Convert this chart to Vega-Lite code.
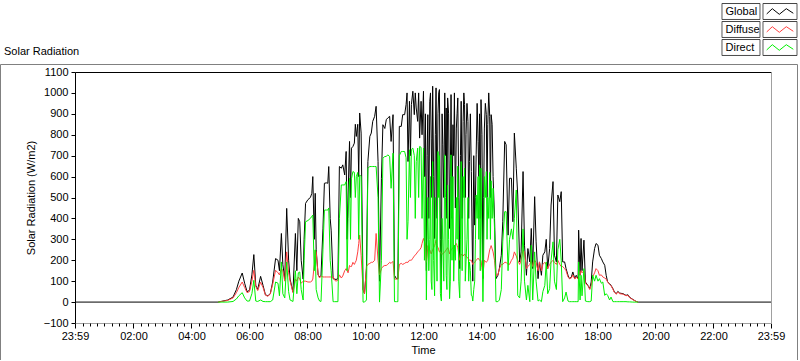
{
  "$schema": "https://vega.github.io/schema/vega-lite/v6.json",
  "width": 797,
  "height": 296,
  "padding": {"left": 0, "top": 4, "right": 0, "bottom": 0},
  "title": {"text": "Solar Radiation", "anchor": "start", "frame": "group", "font": "Liberation Sans", "fontSize": 11, "fontWeight": "normal", "color": "#000", "offset": -53, "dx": 4},
  "data": {"values": [
    {"t": -1, "Global": 0},
    {"t": 295, "Global": 0, "Diffuse": 0, "Direct": 0},
    {"t": 305, "Global": 5, "Diffuse": 4, "Direct": 0},
    {"t": 315, "Global": 10, "Diffuse": 8, "Direct": 0},
    {"t": 326, "Global": 24, "Diffuse": 20, "Direct": 3},
    {"t": 333, "Global": 60, "Diffuse": 45, "Direct": 15},
    {"t": 338, "Global": 100, "Diffuse": 70, "Direct": 30},
    {"t": 345, "Global": 139, "Diffuse": 96, "Direct": 45},
    {"t": 350, "Global": 90, "Diffuse": 70, "Direct": 20},
    {"t": 355, "Global": 50, "Diffuse": 45, "Direct": 5},
    {"t": 360, "Global": 56, "Diffuse": 50, "Direct": 5},
    {"t": 365, "Global": 130, "Diffuse": 100, "Direct": 40},
    {"t": 369, "Global": 227, "Diffuse": 152, "Direct": 104},
    {"t": 373, "Global": 80, "Diffuse": 75, "Direct": 5},
    {"t": 377, "Global": 60, "Diffuse": 55, "Direct": 3},
    {"t": 383, "Global": 123, "Diffuse": 95, "Direct": 10},
    {"t": 388, "Global": 80, "Diffuse": 70, "Direct": 3},
    {"t": 393, "Global": 35, "Diffuse": 33, "Direct": 2},
    {"t": 398, "Global": 30, "Diffuse": 28, "Direct": 2},
    {"t": 403, "Global": 40, "Diffuse": 38, "Direct": 2},
    {"t": 408, "Global": 96, "Diffuse": 85, "Direct": 10},
    {"t": 414, "Global": 208, "Diffuse": 152, "Direct": 96},
    {"t": 419, "Global": 200, "Diffuse": 140, "Direct": 90},
    {"t": 422, "Global": 150, "Diffuse": 130, "Direct": 30},
    {"t": 426, "Global": 328, "Diffuse": 160, "Direct": 192},
    {"t": 429, "Global": 180, "Diffuse": 150, "Direct": 40},
    {"t": 433, "Global": 110, "Diffuse": 100, "Direct": 20},
    {"t": 437, "Global": 448, "Diffuse": 240, "Direct": 192},
    {"t": 441, "Global": 200, "Diffuse": 140, "Direct": 50},
    {"t": 444, "Global": 110, "Diffuse": 100, "Direct": 10},
    {"t": 450, "Global": 48, "Diffuse": 45, "Direct": 3},
    {"t": 455, "Global": 328, "Diffuse": 110, "Direct": 150},
    {"t": 458, "Global": 150, "Diffuse": 100, "Direct": 40},
    {"t": 461, "Global": 400, "Diffuse": 120, "Direct": 140},
    {"t": 464, "Global": 384, "Diffuse": 110, "Direct": 144},
    {"t": 467, "Global": 200, "Diffuse": 90, "Direct": 60},
    {"t": 471, "Global": 110, "Diffuse": 100, "Direct": 10},
    {"t": 473, "Global": 300, "Diffuse": 100, "Direct": 200},
    {"t": 476, "Global": 472, "Diffuse": 100, "Direct": 384},
    {"t": 481, "Global": 490, "Diffuse": 96, "Direct": 390},
    {"t": 486, "Global": 500, "Diffuse": 96, "Direct": 400},
    {"t": 489, "Global": 520, "Diffuse": 100, "Direct": 410},
    {"t": 491, "Global": 600, "Diffuse": 110, "Direct": 416},
    {"t": 494, "Global": 300, "Diffuse": 180, "Direct": 150},
    {"t": 496, "Global": 520, "Diffuse": 248, "Direct": 250},
    {"t": 498, "Global": 250, "Diffuse": 240, "Direct": 60},
    {"t": 502, "Global": 130, "Diffuse": 130, "Direct": 20},
    {"t": 505, "Global": 120, "Diffuse": 115, "Direct": 5},
    {"t": 508, "Global": 128, "Diffuse": 125, "Direct": 3},
    {"t": 512, "Global": 350, "Diffuse": 120, "Direct": 250},
    {"t": 515, "Global": 568, "Diffuse": 120, "Direct": 440},
    {"t": 519, "Global": 570, "Diffuse": 120, "Direct": 440},
    {"t": 522, "Global": 568, "Diffuse": 120, "Direct": 440},
    {"t": 524, "Global": 648, "Diffuse": 120, "Direct": 450},
    {"t": 527, "Global": 400, "Diffuse": 120, "Direct": 200},
    {"t": 529, "Global": 344, "Diffuse": 120, "Direct": 150},
    {"t": 533, "Global": 112, "Diffuse": 120, "Direct": 2},
    {"t": 536, "Global": 110, "Diffuse": 105, "Direct": 2},
    {"t": 539, "Global": 108, "Diffuse": 100, "Direct": 2},
    {"t": 543, "Global": 112, "Diffuse": 105, "Direct": 2},
    {"t": 546, "Global": 648, "Diffuse": 130, "Direct": 400},
    {"t": 550, "Global": 640, "Diffuse": 115, "Direct": 560},
    {"t": 553, "Global": 656, "Diffuse": 125, "Direct": 560},
    {"t": 557, "Global": 608, "Diffuse": 150, "Direct": 560},
    {"t": 560, "Global": 720, "Diffuse": 160, "Direct": 576},
    {"t": 562, "Global": 300, "Diffuse": 150, "Direct": 150},
    {"t": 564, "Global": 512, "Diffuse": 140, "Direct": 400},
    {"t": 567, "Global": 768, "Diffuse": 175, "Direct": 592},
    {"t": 569, "Global": 500, "Diffuse": 170, "Direct": 300},
    {"t": 571, "Global": 736, "Diffuse": 170, "Direct": 590},
    {"t": 574, "Global": 744, "Diffuse": 190, "Direct": 624},
    {"t": 577, "Global": 760, "Diffuse": 180, "Direct": 620},
    {"t": 579, "Global": 850, "Diffuse": 190, "Direct": 500},
    {"t": 581, "Global": 792, "Diffuse": 200, "Direct": 600},
    {"t": 584, "Global": 850, "Diffuse": 240, "Direct": 620},
    {"t": 586, "Global": 600, "Diffuse": 280, "Direct": 300},
    {"t": 588, "Global": 904, "Diffuse": 320, "Direct": 608},
    {"t": 591, "Global": 808, "Diffuse": 224, "Direct": 600},
    {"t": 595, "Global": 60, "Diffuse": 60, "Direct": 0},
    {"t": 598, "Global": 40, "Diffuse": 40, "Direct": 0},
    {"t": 602, "Global": 160, "Diffuse": 170, "Direct": 10},
    {"t": 605, "Global": 672, "Diffuse": 180, "Direct": 640},
    {"t": 609, "Global": 792, "Diffuse": 185, "Direct": 648},
    {"t": 612, "Global": 808, "Diffuse": 190, "Direct": 648},
    {"t": 615, "Global": 864, "Diffuse": 190, "Direct": 648},
    {"t": 619, "Global": 888, "Diffuse": 200, "Direct": 648},
    {"t": 622, "Global": 936, "Diffuse": 328, "Direct": 648},
    {"t": 626, "Global": 672, "Diffuse": 200, "Direct": 500},
    {"t": 629, "Global": 100, "Diffuse": 130, "Direct": 0},
    {"t": 633, "Global": 592, "Diffuse": 160, "Direct": 200},
    {"t": 636, "Global": 848, "Diffuse": 170, "Direct": 688},
    {"t": 640, "Global": 830, "Diffuse": 175, "Direct": 696},
    {"t": 643, "Global": 872, "Diffuse": 175, "Direct": 696},
    {"t": 646, "Global": 880, "Diffuse": 180, "Direct": 704},
    {"t": 650, "Global": 888, "Diffuse": 190, "Direct": 696},
    {"t": 653, "Global": 768, "Diffuse": 185, "Direct": 544},
    {"t": 657, "Global": 896, "Diffuse": 195, "Direct": 712},
    {"t": 660, "Global": 128, "Diffuse": 110, "Direct": 2},
    {"t": 664, "Global": 112, "Diffuse": 110, "Direct": 2},
    {"t": 667, "Global": 112, "Diffuse": 110, "Direct": 2},
    {"t": 670, "Global": 840, "Diffuse": 180, "Direct": 700},
    {"t": 674, "Global": 840, "Diffuse": 185, "Direct": 720},
    {"t": 677, "Global": 896, "Diffuse": 180, "Direct": 720},
    {"t": 681, "Global": 896, "Diffuse": 185, "Direct": 720},
    {"t": 684, "Global": 944, "Diffuse": 190, "Direct": 690},
    {"t": 686, "Global": 1000, "Diffuse": 190, "Direct": 300},
    {"t": 688, "Global": 672, "Diffuse": 190, "Direct": 384},
    {"t": 691, "Global": 960, "Diffuse": 200, "Direct": 728},
    {"t": 693, "Global": 700, "Diffuse": 200, "Direct": 500},
    {"t": 695, "Global": 944, "Diffuse": 200, "Direct": 730},
    {"t": 698, "Global": 1008, "Diffuse": 210, "Direct": 736},
    {"t": 701, "Global": 896, "Diffuse": 220, "Direct": 700},
    {"t": 703, "Global": 1000, "Diffuse": 225, "Direct": 400},
    {"t": 705, "Global": 928, "Diffuse": 230, "Direct": 672},
    {"t": 708, "Global": 864, "Diffuse": 240, "Direct": 736},
    {"t": 710, "Global": 1000, "Diffuse": 245, "Direct": 500},
    {"t": 712, "Global": 784, "Diffuse": 250, "Direct": 744},
    {"t": 715, "Global": 960, "Diffuse": 260, "Direct": 740},
    {"t": 717, "Global": 800, "Diffuse": 280, "Direct": 400},
    {"t": 720, "Global": 1008, "Diffuse": 304, "Direct": 736},
    {"t": 722, "Global": 600, "Diffuse": 290, "Direct": 200},
    {"t": 724, "Global": 900, "Diffuse": 280, "Direct": 600},
    {"t": 726, "Global": 150, "Diffuse": 190, "Direct": 10},
    {"t": 727.5, "Global": 700, "Diffuse": 220, "Direct": 300},
    {"t": 729, "Global": 896, "Diffuse": 270, "Direct": 500},
    {"t": 731, "Global": 400, "Diffuse": 250, "Direct": 150},
    {"t": 733, "Global": 960, "Diffuse": 250, "Direct": 300},
    {"t": 734.5, "Global": 1000, "Diffuse": 240, "Direct": 600},
    {"t": 736, "Global": 784, "Diffuse": 230, "Direct": 100},
    {"t": 737.5, "Global": 500, "Diffuse": 240, "Direct": 60},
    {"t": 739, "Global": 1032, "Diffuse": 250, "Direct": 672},
    {"t": 741, "Global": 600, "Diffuse": 260, "Direct": 200},
    {"t": 743, "Global": 304, "Diffuse": 270, "Direct": 30},
    {"t": 744.5, "Global": 800, "Diffuse": 280, "Direct": 500},
    {"t": 746, "Global": 1024, "Diffuse": 296, "Direct": 400},
    {"t": 748, "Global": 400, "Diffuse": 270, "Direct": 100},
    {"t": 750, "Global": 900, "Diffuse": 260, "Direct": 720},
    {"t": 751.5, "Global": 1000, "Diffuse": 250, "Direct": 500},
    {"t": 753, "Global": 1016, "Diffuse": 240, "Direct": 700},
    {"t": 755, "Global": 300, "Diffuse": 240, "Direct": 40},
    {"t": 757, "Global": 60, "Diffuse": 230, "Direct": 5},
    {"t": 758.5, "Global": 900, "Diffuse": 230, "Direct": 400},
    {"t": 760, "Global": 752, "Diffuse": 230, "Direct": 300},
    {"t": 762, "Global": 500, "Diffuse": 235, "Direct": 100},
    {"t": 764, "Global": 1000, "Diffuse": 240, "Direct": 704},
    {"t": 765.5, "Global": 700, "Diffuse": 245, "Direct": 500},
    {"t": 767, "Global": 928, "Diffuse": 250, "Direct": 128},
    {"t": 768.5, "Global": 400, "Diffuse": 255, "Direct": 60},
    {"t": 770, "Global": 976, "Diffuse": 260, "Direct": 560},
    {"t": 772, "Global": 900, "Diffuse": 250, "Direct": 300},
    {"t": 774, "Global": 352, "Diffuse": 230, "Direct": 16},
    {"t": 775.5, "Global": 600, "Diffuse": 240, "Direct": 100},
    {"t": 777, "Global": 992, "Diffuse": 250, "Direct": 704},
    {"t": 779, "Global": 400, "Diffuse": 255, "Direct": 200},
    {"t": 781, "Global": 848, "Diffuse": 260, "Direct": 600},
    {"t": 782.5, "Global": 700, "Diffuse": 265, "Direct": 100},
    {"t": 784, "Global": 1000, "Diffuse": 270, "Direct": 272},
    {"t": 786, "Global": 450, "Diffuse": 275, "Direct": 200},
    {"t": 788, "Global": 832, "Diffuse": 280, "Direct": 500},
    {"t": 789.5, "Global": 900, "Diffuse": 270, "Direct": 300},
    {"t": 791, "Global": 976, "Diffuse": 260, "Direct": 650},
    {"t": 793, "Global": 500, "Diffuse": 230, "Direct": 100},
    {"t": 795, "Global": 160, "Diffuse": 200, "Direct": 20},
    {"t": 796.5, "Global": 700, "Diffuse": 215, "Direct": 300},
    {"t": 798, "Global": 960, "Diffuse": 230, "Direct": 672},
    {"t": 800, "Global": 400, "Diffuse": 225, "Direct": 150},
    {"t": 802, "Global": 864, "Diffuse": 220, "Direct": 600},
    {"t": 803.5, "Global": 1000, "Diffuse": 225, "Direct": 500},
    {"t": 805, "Global": 944, "Diffuse": 230, "Direct": 640},
    {"t": 806.5, "Global": 500, "Diffuse": 225, "Direct": 100},
    {"t": 808, "Global": 800, "Diffuse": 220, "Direct": 192},
    {"t": 810, "Global": 950, "Diffuse": 215, "Direct": 300},
    {"t": 812, "Global": 864, "Diffuse": 210, "Direct": 500},
    {"t": 813.5, "Global": 400, "Diffuse": 205, "Direct": 100},
    {"t": 815, "Global": 672, "Diffuse": 200, "Direct": 192},
    {"t": 817, "Global": 900, "Diffuse": 200, "Direct": 150},
    {"t": 819, "Global": 624, "Diffuse": 200, "Direct": 32},
    {"t": 820.5, "Global": 350, "Diffuse": 190, "Direct": 30},
    {"t": 822, "Global": 100, "Diffuse": 180, "Direct": 5},
    {"t": 824, "Global": 700, "Diffuse": 185, "Direct": 60},
    {"t": 826, "Global": 368, "Diffuse": 190, "Direct": 100},
    {"t": 827.5, "Global": 500, "Diffuse": 195, "Direct": 300},
    {"t": 829, "Global": 704, "Diffuse": 200, "Direct": 512},
    {"t": 831, "Global": 950, "Diffuse": 205, "Direct": 400},
    {"t": 833, "Global": 768, "Diffuse": 210, "Direct": 600},
    {"t": 834.5, "Global": 600, "Diffuse": 205, "Direct": 300},
    {"t": 836, "Global": 900, "Diffuse": 200, "Direct": 656},
    {"t": 837.5, "Global": 400, "Diffuse": 200, "Direct": 150},
    {"t": 839, "Global": 968, "Diffuse": 200, "Direct": 640},
    {"t": 841, "Global": 800, "Diffuse": 165, "Direct": 300},
    {"t": 843, "Global": 112, "Diffuse": 130, "Direct": 2},
    {"t": 844.5, "Global": 500, "Diffuse": 165, "Direct": 200},
    {"t": 846, "Global": 832, "Diffuse": 200, "Direct": 600},
    {"t": 848, "Global": 950, "Diffuse": 195, "Direct": 500},
    {"t": 850, "Global": 896, "Diffuse": 190, "Direct": 624},
    {"t": 851.5, "Global": 500, "Diffuse": 195, "Direct": 300},
    {"t": 853, "Global": 848, "Diffuse": 200, "Direct": 500},
    {"t": 855, "Global": 1000, "Diffuse": 225, "Direct": 400},
    {"t": 857, "Global": 888, "Diffuse": 250, "Direct": 620},
    {"t": 858.5, "Global": 500, "Diffuse": 260, "Direct": 300},
    {"t": 860, "Global": 896, "Diffuse": 270, "Direct": 580},
    {"t": 862, "Global": 850, "Diffuse": 255, "Direct": 400},
    {"t": 864, "Global": 600, "Diffuse": 240, "Direct": 544},
    {"t": 867, "Global": 400, "Diffuse": 200, "Direct": 350},
    {"t": 870, "Global": 112, "Diffuse": 128, "Direct": 2},
    {"t": 874, "Global": 128, "Diffuse": 130, "Direct": 2},
    {"t": 877, "Global": 160, "Diffuse": 160, "Direct": 10},
    {"t": 881, "Global": 224, "Diffuse": 180, "Direct": 60},
    {"t": 884, "Global": 384, "Diffuse": 180, "Direct": 288},
    {"t": 888, "Global": 768, "Diffuse": 190, "Direct": 432},
    {"t": 891, "Global": 752, "Diffuse": 190, "Direct": 432},
    {"t": 895, "Global": 320, "Diffuse": 180, "Direct": 150},
    {"t": 898, "Global": 592, "Diffuse": 180, "Direct": 300},
    {"t": 902, "Global": 592, "Diffuse": 200, "Direct": 350},
    {"t": 905, "Global": 384, "Diffuse": 210, "Direct": 300},
    {"t": 908, "Global": 808, "Diffuse": 240, "Direct": 400},
    {"t": 912, "Global": 640, "Diffuse": 220, "Direct": 536},
    {"t": 915, "Global": 512, "Diffuse": 200, "Direct": 32},
    {"t": 919, "Global": 192, "Diffuse": 180, "Direct": 20},
    {"t": 922, "Global": 240, "Diffuse": 200, "Direct": 100},
    {"t": 926, "Global": 624, "Diffuse": 250, "Direct": 350},
    {"t": 929, "Global": 272, "Diffuse": 240, "Direct": 100},
    {"t": 933, "Global": 128, "Diffuse": 160, "Direct": 10},
    {"t": 936, "Global": 256, "Diffuse": 170, "Direct": 80},
    {"t": 940, "Global": 192, "Diffuse": 180, "Direct": 2},
    {"t": 943, "Global": 352, "Diffuse": 200, "Direct": 272},
    {"t": 946, "Global": 160, "Diffuse": 170, "Direct": 10},
    {"t": 950, "Global": 504, "Diffuse": 200, "Direct": 240},
    {"t": 953, "Global": 288, "Diffuse": 190, "Direct": 100},
    {"t": 957, "Global": 112, "Diffuse": 150, "Direct": 5},
    {"t": 960, "Global": 192, "Diffuse": 192, "Direct": 10},
    {"t": 964, "Global": 128, "Diffuse": 150, "Direct": 2},
    {"t": 967, "Global": 224, "Diffuse": 180, "Direct": 50},
    {"t": 971, "Global": 240, "Diffuse": 190, "Direct": 80},
    {"t": 974, "Global": 300, "Diffuse": 180, "Direct": 192},
    {"t": 977, "Global": 160, "Diffuse": 160, "Direct": 40},
    {"t": 981, "Global": 256, "Diffuse": 180, "Direct": 64},
    {"t": 984, "Global": 464, "Diffuse": 190, "Direct": 200},
    {"t": 988, "Global": 576, "Diffuse": 200, "Direct": 288},
    {"t": 991, "Global": 224, "Diffuse": 190, "Direct": 100},
    {"t": 995, "Global": 192, "Diffuse": 180, "Direct": 60},
    {"t": 998, "Global": 512, "Diffuse": 200, "Direct": 250},
    {"t": 1002, "Global": 480, "Diffuse": 180, "Direct": 300},
    {"t": 1005, "Global": 528, "Diffuse": 170, "Direct": 200},
    {"t": 1008, "Global": 192, "Diffuse": 170, "Direct": 2},
    {"t": 1012, "Global": 192, "Diffuse": 160, "Direct": 20},
    {"t": 1015, "Global": 160, "Diffuse": 150, "Direct": 48},
    {"t": 1019, "Global": 128, "Diffuse": 120, "Direct": 5},
    {"t": 1022, "Global": 112, "Diffuse": 112, "Direct": 2},
    {"t": 1026, "Global": 120, "Diffuse": 115, "Direct": 2},
    {"t": 1029, "Global": 144, "Diffuse": 130, "Direct": 2},
    {"t": 1033, "Global": 112, "Diffuse": 110, "Direct": 2},
    {"t": 1036, "Global": 128, "Diffuse": 120, "Direct": 2},
    {"t": 1040, "Global": 112, "Diffuse": 110, "Direct": 2},
    {"t": 1041, "Global": 344, "Diffuse": 150, "Direct": 192},
    {"t": 1044, "Global": 128, "Diffuse": 130, "Direct": 10},
    {"t": 1046, "Global": 304, "Diffuse": 150, "Direct": 128},
    {"t": 1048, "Global": 150, "Diffuse": 140, "Direct": 30},
    {"t": 1052, "Global": 296, "Diffuse": 150, "Direct": 160},
    {"t": 1055, "Global": 96, "Diffuse": 90, "Direct": 5},
    {"t": 1060, "Global": 80, "Diffuse": 80, "Direct": 2},
    {"t": 1064, "Global": 64, "Diffuse": 60, "Direct": 2},
    {"t": 1067, "Global": 96, "Diffuse": 80, "Direct": 5},
    {"t": 1070, "Global": 192, "Diffuse": 120, "Direct": 128},
    {"t": 1074, "Global": 256, "Diffuse": 140, "Direct": 100},
    {"t": 1077, "Global": 280, "Diffuse": 160, "Direct": 128},
    {"t": 1081, "Global": 272, "Diffuse": 150, "Direct": 100},
    {"t": 1084, "Global": 224, "Diffuse": 128, "Direct": 112},
    {"t": 1088, "Global": 208, "Diffuse": 130, "Direct": 90},
    {"t": 1091, "Global": 192, "Diffuse": 120, "Direct": 96},
    {"t": 1095, "Global": 176, "Diffuse": 115, "Direct": 32},
    {"t": 1098, "Global": 128, "Diffuse": 110, "Direct": 40},
    {"t": 1101, "Global": 96, "Diffuse": 96, "Direct": 32},
    {"t": 1105, "Global": 88, "Diffuse": 85, "Direct": 10},
    {"t": 1108, "Global": 80, "Diffuse": 78, "Direct": 24},
    {"t": 1112, "Global": 64, "Diffuse": 62, "Direct": 2},
    {"t": 1115, "Global": 48, "Diffuse": 46, "Direct": 2},
    {"t": 1119, "Global": 40, "Diffuse": 38, "Direct": 2},
    {"t": 1122, "Global": 51, "Diffuse": 48, "Direct": 2},
    {"t": 1126, "Global": 43, "Diffuse": 40, "Direct": 2},
    {"t": 1133, "Global": 40, "Diffuse": 38, "Direct": 2},
    {"t": 1139, "Global": 32, "Diffuse": 30, "Direct": 2},
    {"t": 1143, "Global": 35, "Diffuse": 33, "Direct": 1},
    {"t": 1146, "Global": 24, "Diffuse": 22, "Direct": 1},
    {"t": 1153, "Global": 13, "Diffuse": 12, "Direct": 0},
    {"t": 1160, "Global": 3, "Diffuse": 3, "Direct": 0},
    {"t": 1164, "Global": 0, "Diffuse": 0, "Direct": 0},
    {"t": 1439, "Global": 0}
  ]},
  "transform": [
    {"fold": ["Global", "Diffuse", "Direct"], "as": ["key", "value"]},
    {"filter": "isValid(datum.value)"}
  ],
  "layer": [
    {
      "mark": {"type": "line", "strokeWidth": 1, "interpolate": "linear"},
      "encoding": {
        "x": {"field": "t", "type": "quantitative",
          "scale": {"domain": [-1, 1439], "range": [75, 771], "nice": false, "zero": false},
          "axis": {"orient": "bottom", "offset": -37, "title": "Time", "titlePadding": 3,
            "values": [-1, 120, 240, 360, 480, 600, 720, 840, 960, 1080, 1200, 1320, 1439],
            "labelExpr": "datum.value < 0 || datum.value > 1430 ? '23:59' : (datum.value < 600 ? '0' : '') + format(datum.value / 60, 'd') + ':00'",
            "tickSize": 5, "labelPadding": 2, "domainColor": "#a0a0a0", "labelFlush": false, "labelOverlap": false}},
        "y": {"field": "value", "type": "quantitative",
          "scale": {"domain": [-100, 1100], "range": [259, 8], "nice": false, "zero": false},
          "axis": {"orient": "left", "offset": -75, "title": "Solar Radiation (W/m2)", "titlePadding": 7, "format": "d",
            "values": [-100, 0, 100, 200, 300, 400, 500, 600, 700, 800, 900, 1000, 1100],
            "tickSize": 4, "labelPadding": 3, "labelFlush": false, "labelOverlap": false}},
        "color": {"field": "key", "type": "nominal", "sort": ["Global", "Diffuse", "Direct"],
          "scale": {"range": ["#000000", "#ff4040", "#00f000"]},
          "legend": {"orient": "none", "legendX": 765.5, "legendY": -60, "title": null,
            "symbolType": "M-7.29,-1.14M3.43,1.14M-0.9,0.35L-0.1,-0.4L0.9,0.4L1.9,-0.4L2.9,0.25",
            "symbolSize": 196, "symbolStrokeWidth": 1, "symbolFillColor": "transparent",
            "labelAlign": "left", "labelOffset": -55, "labelFont": "Liberation Sans", "labelFontSize": 11, "labelColor": "#000",
            "rowPadding": -3.5, "padding": 0, "offset": 0}}
      }
    },
    {
      "transform": [{"filter": "false"}],
      "mark": {"type": "line", "color": "#404040", "strokeWidth": 1},
      "encoding": {
        "x": {"field": "t", "type": "quantitative",
          "axis": {"orient": "bottom", "offset": -37, "title": null, "labels": false, "domain": false, "tickSize": 3,
            "values": [15,30,45,60,75,90,105,120,135,150,165,180,195,210,225,240,255,270,285,300,315,330,345,360,375,390,405,420,435,450,465,480,495,510,525,540,555,570,585,600,615,630,645,660,675,690,705,720,735,750,765,780,795,810,825,840,855,870,885,900,915,930,945,960,975,990,1005,1020,1035,1050,1065,1080,1095,1110,1125,1140,1155,1170,1185,1200,1215,1230,1245,1260,1275,1290,1305,1320,1335,1350,1365,1380,1395,1410,1425]}},
        "y": {"field": "value", "type": "quantitative",
          "axis": {"orient": "right", "offset": -26, "title": null, "labels": false, "ticks": false, "domainColor": "#a0a0a0"}},
        "strokeDash": {"field": "key", "type": "nominal",
          "scale": {"domain": ["Global", "Diffuse", "Direct"], "range": [[1, 0], [1, 0], [1, 0]]},
          "legend": {"orient": "none", "legendX": 765.5, "legendY": -60, "title": null,
            "symbolType": "M-7.29,-1.14H-1.86V1.14H-7.29Z M-1.43,-1.14H3.43V1.14H-1.43Z",
            "symbolSize": 196, "symbolStrokeWidth": 1, "symbolStrokeColor": "#404040", "symbolFillColor": "transparent",
            "labelAlign": "left", "labelOffset": -55, "labelFont": "Liberation Sans", "labelFontSize": 11, "labelOpacity": 0,
            "rowPadding": -3.5, "padding": 0, "offset": 0}}
      }
    },
    {
      "transform": [{"filter": "false"}],
      "mark": {"type": "line", "strokeWidth": 1},
      "encoding": {
        "x": {"field": "t", "type": "quantitative",
          "axis": {"orient": "top", "offset": -8, "title": null, "labels": false, "ticks": false, "domainColor": "#000"}},
        "y": {"field": "value", "type": "quantitative", "axis": null}
      }
    }
  ],
  "resolve": {"axis": {"x": "independent", "y": "independent"}},
  "config": {
    "view": {"stroke": "#808080", "strokeWidth": 1},
    "axis": {"labelFont": "Liberation Sans", "labelFontSize": 11, "labelColor": "#000", "titleFont": "Liberation Sans", "titleFontSize": 11, "titleFontWeight": "normal", "titleColor": "#000", "tickColor": "#000", "domainColor": "#000", "grid": false, "domainWidth": 1, "tickWidth": 1}
  }
}
